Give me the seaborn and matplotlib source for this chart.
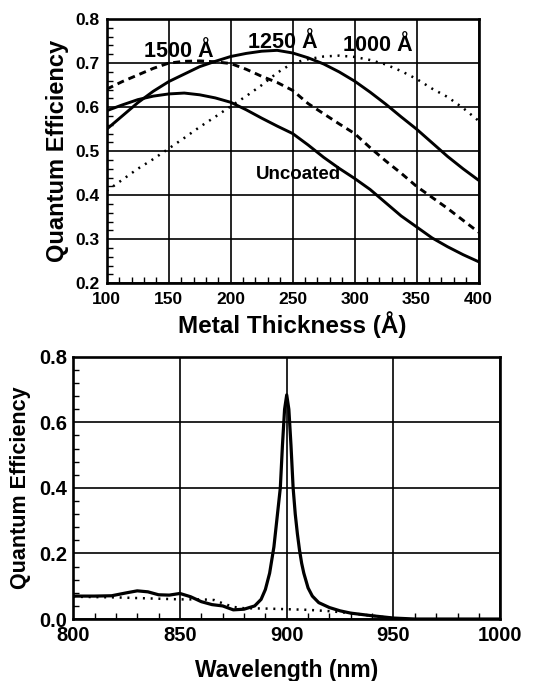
import numpy as np
import pandas as pd
import matplotlib
matplotlib.use("Agg")
import matplotlib.pyplot as plt
import seaborn as sns
from matplotlib.ticker import MultipleLocator

# ---------------- data ----------------
thickness = [100, 112.5, 125, 137.5, 150, 162.5, 175, 187.5, 200, 212.5, 225, 237.5,
             250, 262.5, 275, 287.5, 300, 312.5, 325, 337.5, 350, 362.5, 375, 387.5, 400]
qe_uncoated = [0.592, 0.605, 0.617, 0.625, 0.630, 0.632, 0.628, 0.621, 0.611, 0.594, 0.575, 0.557,
               0.540, 0.514, 0.486, 0.461, 0.438, 0.413, 0.383, 0.353, 0.328, 0.303, 0.283, 0.265, 0.249]
qe_1250 = [0.550, 0.580, 0.610, 0.636, 0.658, 0.675, 0.692, 0.704, 0.715, 0.722, 0.727, 0.729,
           0.723, 0.712, 0.698, 0.680, 0.659, 0.634, 0.607, 0.578, 0.550, 0.519, 0.488, 0.460, 0.434]
qe_1500 = [0.641, 0.658, 0.673, 0.688, 0.700, 0.704, 0.705, 0.703, 0.699, 0.686, 0.670, 0.656,
           0.638, 0.608, 0.585, 0.562, 0.540, 0.508, 0.478, 0.450, 0.420, 0.395, 0.370, 0.343, 0.316]
qe_1000 = [0.410, 0.435, 0.460, 0.482, 0.506, 0.530, 0.555, 0.578, 0.602, 0.625, 0.650, 0.678,
           0.700, 0.709, 0.715, 0.717, 0.714, 0.707, 0.697, 0.682, 0.664, 0.642, 0.623, 0.598, 0.569]
curve_labels = ["1500 Å", "1250 Å", "1000 Å", "Uncoated"]

wl_solid = [800, 810, 818, 825, 830, 835, 840, 845, 850, 855, 860, 865, 870, 875, 880, 885,
            888, 890, 892, 894, 895, 896, 897, 898, 899, 900, 901, 902, 903, 904, 905, 906,
            907, 908, 910, 912, 915, 920, 925, 930, 940, 950, 960, 1000]
qe_solid = [0.070, 0.070, 0.071, 0.080, 0.086, 0.083, 0.074, 0.073, 0.078, 0.068, 0.053, 0.044,
            0.040, 0.028, 0.030, 0.040, 0.060, 0.090, 0.140, 0.220, 0.280, 0.340, 0.400, 0.530,
            0.640, 0.684, 0.640, 0.530, 0.400, 0.320, 0.260, 0.210, 0.170, 0.140, 0.095, 0.070,
            0.050, 0.035, 0.025, 0.018, 0.010, 0.003, 0.0, 0.0]
wl_dotted = [800, 820, 840, 850, 860, 866, 870, 875, 880, 890, 900, 910, 920, 930, 940, 950]
qe_dotted = [0.068, 0.066, 0.062, 0.060, 0.060, 0.058, 0.048, 0.037, 0.033, 0.032, 0.030,
             0.028, 0.024, 0.018, 0.010, 0.002]

# ---------------- style ----------------
sns.set_style("white")
plt.rcParams["font.family"] = ["Liberation Sans", "DejaVu Sans"]
plt.rcParams["font.weight"] = "bold"
plt.rcParams["axes.labelweight"] = "bold"
for key in ("text.color", "axes.labelcolor", "xtick.color", "ytick.color"):
    plt.rcParams[key] = "black"

fig = plt.figure(figsize=(5.42, 6.81), dpi=100)
ax1 = fig.add_axes([0.197, 0.584, 0.686, 0.388])
ax2 = fig.add_axes([0.135, 0.091, 0.788, 0.385])

k = "black"
# ---------------- top chart ----------------
sns.lineplot(x=thickness, y=qe_uncoated, ax=ax1, color=k, lw=2.1)
sns.lineplot(x=thickness, y=qe_1250, ax=ax1, color=k, lw=2.1)
sns.lineplot(x=thickness, y=qe_1500, ax=ax1, color=k, lw=2.1)
ax1.lines[-1].set_dashes((2.4, 1.7))
sns.lineplot(x=thickness, y=qe_1000, ax=ax1, color=k, lw=1.8)
ax1.lines[-1].set_dashes((0.8, 2.3))

ax1.set_xlim(100, 400)
ax1.set_ylim(0.2, 0.8)
ax1.set_xticks(np.arange(100, 401, 50))
ax1.set_yticks(np.arange(0.2, 0.81, 0.1))
ax1.set_yticklabels([f"{v:.1f}" for v in np.arange(0.2, 0.81, 0.1)])
ax1.xaxis.set_minor_locator(MultipleLocator(10))
ax1.yaxis.set_minor_locator(MultipleLocator(0.02))
ax1.set_xlabel("Metal Thickness (Å)", fontsize=17.5, labelpad=3)
ax1.set_ylabel("Quantum Efficiency", fontsize=17, labelpad=5)

ax1.text(158, 0.726, curve_labels[0], fontsize=15.5, weight="bold", ha="center", va="center", color=k)
ax1.text(242, 0.747, curve_labels[1], fontsize=15.5, weight="bold", ha="center", va="center", color=k)
ax1.text(319, 0.740, curve_labels[2], fontsize=15.5, weight="bold", ha="center", va="center", color=k)
ax1.text(255, 0.446, curve_labels[3], fontsize=13.5, weight="bold", ha="center", va="center", color=k)

# ---------------- bottom chart ----------------
sns.lineplot(x=wl_solid, y=qe_solid, ax=ax2, color=k, lw=2.3)
sns.lineplot(x=wl_dotted, y=qe_dotted, ax=ax2, color=k, lw=1.8)
ax2.lines[-1].set_dashes((0.8, 2.3))

ax2.set_xlim(800, 1000)
ax2.set_ylim(0.0, 0.8)
ax2.set_xticks(np.arange(800, 1001, 50))
ax2.set_yticks(np.arange(0.0, 0.81, 0.2))
ax2.set_yticklabels([f"{v:.1f}" for v in np.arange(0.0, 0.81, 0.2)])
ax2.xaxis.set_minor_locator(MultipleLocator(10))
ax2.yaxis.set_minor_locator(MultipleLocator(0.04))
ax2.set_xlabel("Wavelength (nm)", fontsize=16.5, labelpad=10)
ax2.set_ylabel("Quantum Efficiency", fontsize=15.5, labelpad=6)

for ax, fs, xpad, ypad in ((ax1, 12.5, 6, 5), (ax2, 14.5, 5, 4)):
    ax.grid(True, which="major", color=k, lw=1.2)
    ax.set_axisbelow(True)
    for s in ax.spines.values():
        s.set_visible(True)
        s.set_color(k)
        s.set_linewidth(1.9)
    ax.tick_params(which="major", length=0, labelsize=fs, labelcolor=k)
    ax.tick_params(axis="x", which="major", pad=xpad)
    ax.tick_params(axis="y", which="major", pad=ypad)
    ax.tick_params(which="minor", direction="in", length=4, width=1.0, color=k,
                   bottom=True, left=True)
    for t in ax.get_xticklabels() + ax.get_yticklabels():
        t.set_fontweight("bold")

fig.savefig("out.png", dpi=100)
